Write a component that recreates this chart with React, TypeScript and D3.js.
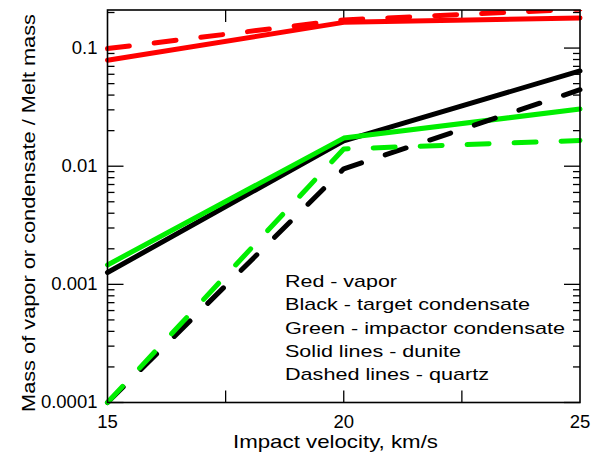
import React from "react";
import * as d3 from "d3";

const velocities = [15, 20, 25];
const redSolid = [0.079, 0.165, 0.18];
const redDashed = [0.099, 0.173, 0.214];
const blackSolid = [0.00126, 0.0164, 0.064];
const blackDashed = [0.0001, 0.0095, 0.0444];
const greenSolid = [0.00146, 0.0173, 0.0305];
const greenDashed = [0.0001, 0.014, 0.0165];
const yTickLabels = ["0.0001", "0.001", "0.01", "0.1"];
const yTickValues = [0.0001, 0.001, 0.01, 0.1];
const xTickLabels = ["15", "20", "25"];
const xTickValues = [15, 20, 25];
const xMinorTicks = [17.5, 20, 22.5];
const legendLines = [
  "Red - vapor",
  "Black - target condensate",
  "Green - impactor condensate",
  "Solid lines - dunite",
  "Dashed lines - quartz",
];
const legendWidths = [112, 245, 280, 176, 204];

const series = [
  { values: blackSolid, color: "#000000", dashed: false },
  { values: greenSolid, color: "#00ee00", dashed: false },
  { values: blackDashed, color: "#000000", dashed: true },
  { values: greenDashed, color: "#00ee00", dashed: true },
  { values: redDashed, color: "#ff0000", dashed: true },
  { values: redSolid, color: "#ff0000", dashed: false },
];

export default function App() {
  const W = 598, H = 457;
  const L = 107.5, R = 580, T = 10, B = 402.5;
  const x = d3.scaleLinear().domain([15, 25]).range([L, R]);
  const y = d3.scaleLog().domain([0.0001, 0.21]).range([B, T]);
  const line = d3
    .line<number>()
    .x((_, i) => x(velocities[i]))
    .y((d) => y(d));

  const minorY: number[] = [];
  for (let e = -4; e <= -1; e++) {
    for (let m = 2; m <= 9; m++) {
      const v = m * Math.pow(10, e);
      if (v <= 0.21) minorY.push(v);
    }
  }
  const font = "'Liberation Sans', Arial, sans-serif";

  return (
    <svg
      width={W}
      height={H}
      style={{ position: "absolute", left: 0, top: 0, background: "#fff" }}
      fontFamily={font}
    >
      <defs>
        <clipPath id="plotclip">
          <rect x={L - 4} y={T} width={R - L + 8} height={B - T + 4} />
        </clipPath>
      </defs>
      <g stroke="#000" strokeWidth={1.3}>
        {yTickValues.map((v) => (
          <g key={"my" + v}>
            <line x1={L} x2={L + 16} y1={y(v)} y2={y(v)} />
            <line x1={R} x2={R - 16} y1={y(v)} y2={y(v)} />
          </g>
        ))}
        {minorY.map((v) => (
          <g key={"ny" + v}>
            <line x1={L} x2={L + 7} y1={y(v)} y2={y(v)} />
            <line x1={R} x2={R - 7} y1={y(v)} y2={y(v)} />
          </g>
        ))}
        {xMinorTicks.map((v) => (
          <g key={"mx" + v}>
            <line x1={x(v)} x2={x(v)} y1={B} y2={B - 12} />
            <line x1={x(v)} x2={x(v)} y1={T} y2={T + 12} />
          </g>
        ))}
      </g>
      <g clipPath="url(#plotclip)">
        {series.map((s, i) => (
          <path
            key={i}
            d={line(s.values) || ""}
            fill="none"
            stroke={s.color}
            strokeWidth={5}
            strokeLinecap="round"
            strokeLinejoin="round"
            strokeDasharray={s.dashed ? "22 25" : undefined}
          />
        ))}
      </g>
      <rect x={L} y={T} width={R - L} height={B - T} fill="none" stroke="#000" strokeWidth={1.6} />
      <g fontSize={18.5} textAnchor="end" fill="#000">
        {yTickValues.map((v, i) => (
          <text key={v} x={L - 10} y={y(v) + 5.5}>
            {yTickLabels[i]}
          </text>
        ))}
      </g>
      <g fontSize={18.5} textAnchor="middle" fill="#000">
        {xTickValues.map((v, i) => (
          <text key={v} x={x(v)} y={428}>
            {xTickLabels[i]}
          </text>
        ))}
      </g>
      <text
        x={335.5}
        y={448}
        fontSize={18.5}
        textAnchor="middle"
        textLength={205}
        lengthAdjust="spacingAndGlyphs"
      >
        Impact velocity, km/s
      </text>
      <text
        transform={`translate(35, 213) rotate(-90)`}
        fontSize={18.5}
        textAnchor="middle"
        textLength={398}
        lengthAdjust="spacingAndGlyphs"
      >
        Mass of vapor or condensate / Melt mass
      </text>
      <g fontSize={17} fill="#000">
        {legendLines.map((t, i) => (
          <text
            key={t}
            x={285}
            y={287 + i * 23.3}
            textLength={legendWidths[i]}
            lengthAdjust="spacingAndGlyphs"
          >
            {t}
          </text>
        ))}
      </g>
    </svg>
  );
}
